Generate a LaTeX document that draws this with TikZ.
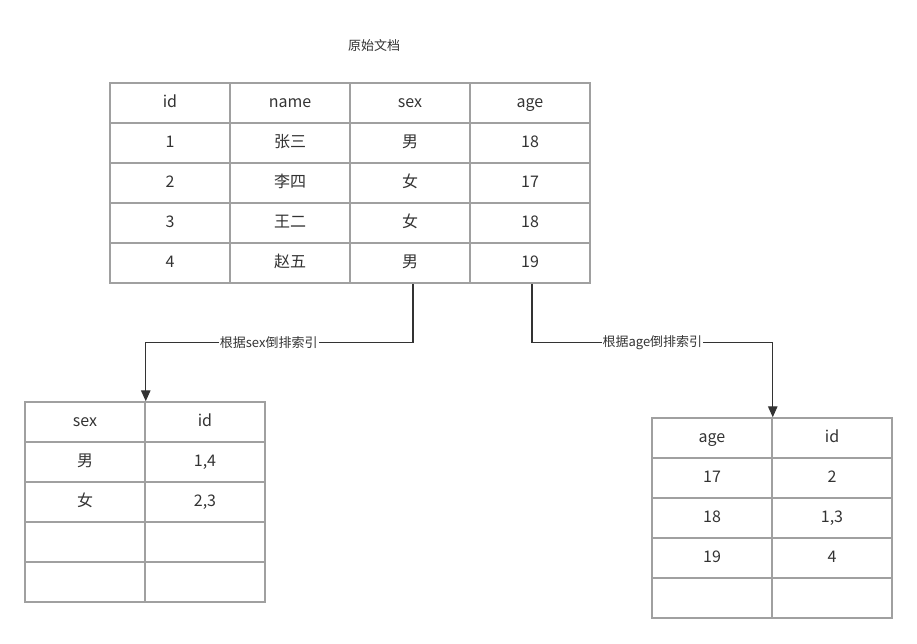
\documentclass[tikz,border=0pt]{standalone}
\usepackage{fontspec}
\setmainfont{Noto Sans CJK SC}
\usetikzlibrary{arrows.meta}
\definecolor{gridgray}{HTML}{A0A0A0}
\definecolor{inkgray}{HTML}{333333}
\begin{document}
\begin{tikzpicture}[x=1pt,y=-1pt]
\tikzstyle{cell}=[draw=gridgray,line width=1.5pt,minimum width=120pt,minimum height=40pt,inner sep=0pt,text height=12pt,text depth=3pt,text=inkgray,font=\fontsize{16}{18}\selectfont]
\tikzstyle{edge}=[draw=inkgray,line width=1.3pt,-{Triangle[length=11pt,width=9.5pt]}]
\tikzstyle{weight}=[fill=white,inner sep=1pt,text=inkgray,font=\fontsize{13}{15}\selectfont]
\useasboundingbox (0,0) rectangle (917,643);
% original table
\node[text=inkgray,font=\fontsize{13}{15}\selectfont] (title) at (374,46) {原始文档};
\foreach \r/\a/\b/\c/\d in {0/id/name/sex/age,1/1/张三/男/18,2/2/李四/女/17,3/3/王二/女/18,4/4/赵五/男/19}{
  \node[cell] (m-\r-1) at (170,103+40*\r) {\a};
  \node[cell] (m-\r-2) at (290,103+40*\r) {\b};
  \node[cell] (m-\r-3) at (410,103+40*\r) {\c};
  \node[cell] (m-\r-4) at (530,103+40*\r) {\d};
}
% sex index
\foreach \r/\a/\b in {0/sex/id,1/男/{1,4},2/女/{2,3},3//,4//}{
  \node[cell] (s-\r-1) at (85,422+40*\r) {\a};
  \node[cell] (s-\r-2) at (205,422+40*\r) {\b};
}
% age index
\foreach \r/\a/\b in {0/age/id,1/17/2,2/18/{1,3},3/19/4,4//}{
  \node[cell] (g-\r-1) at (712,438+40*\r) {\a};
  \node[cell] (g-\r-2) at (832,438+40*\r) {\b};
}
\path[edge] ([xshift=3pt]m-4-3.south) -- ++(0,59) -| node[weight,pos=0.27] {根据sex倒排索引} (s-0-1.north east);
\path[edge] ([xshift=2pt]m-4-4.south) -- ++(0,59) -| node[weight,pos=0.25] {根据age倒排索引} (g-0-1.north east);
\end{tikzpicture}
\end{document}
